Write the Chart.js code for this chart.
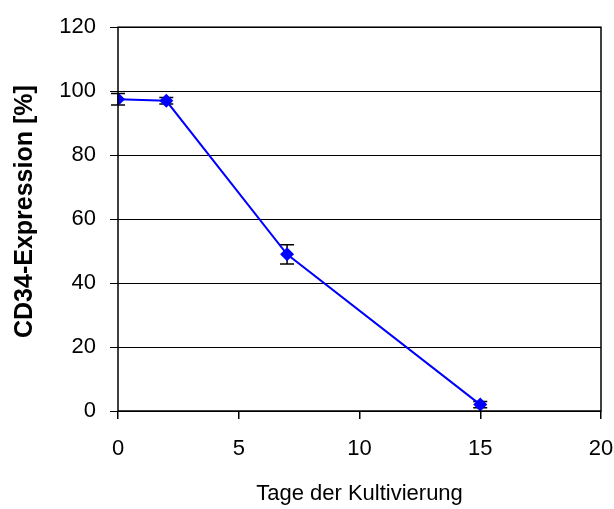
<!DOCTYPE html>
<html>
<head>
<meta charset="utf-8">
<script src="https://cdn.jsdelivr.net/npm/chart.js@4.4.1/dist/chart.umd.min.js"></script>
<style>
  html, body { margin: 0; padding: 0; background: #fff; }
  #wrap { width: 614px; height: 509px; }
</style>
</head>
<body>
<div id="wrap"><canvas id="c" width="614" height="509"></canvas></div>
<script>
// Culture days and CD34 expression (mean with standard deviation)
const days = [0, 2, 7, 15];
const cd34Mean = [97.5, 97, 49, 2];
const cd34Sd = [1.8, 1, 3, 1];
const xTicks = [0, 5, 10, 15, 20];
const yTicks = [0, 20, 40, 60, 80, 100, 120];
const yTitle = 'CD34-Expression [%]';

const FONT = "'Liberation Sans', Arial, Helvetica, sans-serif";

// Vertical error bars with caps, drawn under the markers
const errorBars = {
  id: 'errorBars',
  beforeDatasetsDraw(chart) {
    const { ctx, scales: { x, y } } = chart;
    ctx.save();
    ctx.strokeStyle = '#000';
    ctx.lineWidth = 1.5;
    days.forEach((d, i) => {
      const px = x.getPixelForValue(d);
      const top = y.getPixelForValue(cd34Mean[i] + cd34Sd[i]);
      const bot = y.getPixelForValue(cd34Mean[i] - cd34Sd[i]);
      ctx.beginPath();
      ctx.moveTo(px, top); ctx.lineTo(px, bot);
      ctx.moveTo(px - 7, top); ctx.lineTo(px + 7, top);
      ctx.moveTo(px - 7, bot); ctx.lineTo(px + 7, bot);
      ctx.stroke();
    });
    ctx.restore();
  }
};

// Frame around the plot area and the rotated y-axis title
const frame = {
  id: 'frame',
  afterDraw(chart) {
    const { ctx, chartArea: a } = chart;
    ctx.save();
    ctx.strokeStyle = '#000';
    ctx.lineWidth = 1.5;
    ctx.strokeRect(a.left, a.top, a.right - a.left, a.bottom - a.top);
    ctx.translate(25, (a.top + a.bottom) / 2 - 7.5);
    ctx.rotate(-Math.PI / 2);
    ctx.fillStyle = '#000';
    ctx.font = 'bold 25px ' + FONT;
    ctx.textAlign = 'center';
    ctx.textBaseline = 'middle';
    ctx.fillText(yTitle, 0, 0);
    ctx.restore();
  }
};

new Chart(document.getElementById('c'), {
  type: 'scatter',
  data: {
    datasets: [{
      data: days.map((d, i) => ({ x: d, y: cd34Mean[i] })),
      showLine: true,
      borderColor: '#0000ff',
      borderWidth: 2,
      backgroundColor: '#0000ff',
      pointStyle: 'rectRot',
      pointRadius: 7,
      pointBorderWidth: 0,
      pointHoverRadius: 7
    }]
  },
  options: {
    responsive: false,
    animation: false,
    layout: { padding: { top: 27, right: 0, left: 0, bottom: 0 } },
    plugins: { legend: { display: false }, tooltip: { enabled: false } },
    scales: {
      x: {
        type: 'linear',
        min: 0, max: 20,
        afterBuildTicks(s) { s.ticks = xTicks.map(v => ({ value: v })); },
        afterFit(s) { s.height = 98; s.paddingRight = 13; s.paddingLeft = 0; },
        grid: { drawOnChartArea: false, color: '#000', tickLength: 8, lineWidth: 1.5 },
        border: { display: false },
        ticks: { color: '#000', font: { family: FONT, size: 22 }, padding: 17, maxRotation: 0 },
        title: { display: true, text: 'Tage der Kultivierung', color: '#000',
                 font: { family: FONT, size: 22, lineHeight: 1.2 }, padding: { bottom: 2, top: 0 } }
      },
      y: {
        min: 0, max: 120,
        afterBuildTicks(s) { s.ticks = yTicks.map(v => ({ value: v })); },
        afterFit(s) { s.width = 118; },
        grid: { color: '#000', tickLength: 8, lineWidth: 1 },
        border: { display: false },
        ticks: { color: '#000', font: { family: FONT, size: 22 }, padding: 14 },
        title: { display: false }
      }
    }
  },
  plugins: [errorBars, frame]
});
</script>
</body>
</html>
